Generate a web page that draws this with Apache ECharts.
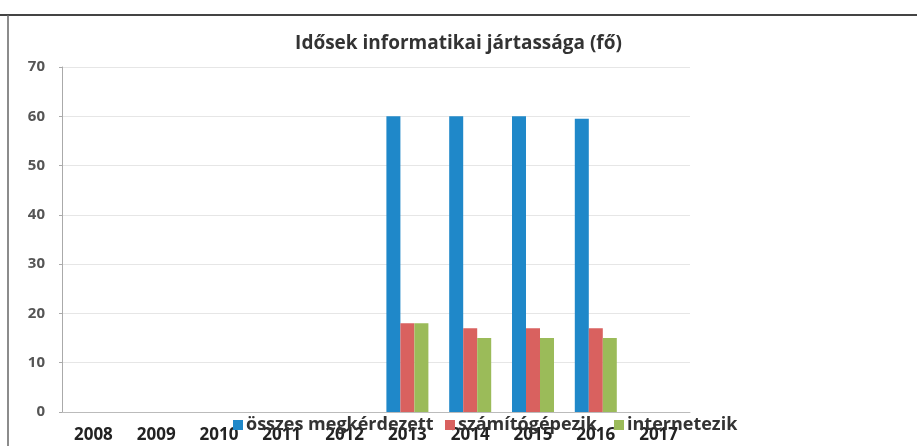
<!DOCTYPE html>
<html><head><meta charset="utf-8">
<script src="https://cdn.jsdelivr.net/npm/echarts@6/dist/echarts.min.js"></script>
<style>html,body{margin:0;padding:0;background:#fff}#c{width:917px;height:446px}</style>
</head><body><div id="c"></div>
<script>
var categories = ['2008','2009','2010','2011','2012','2013','2014','2015','2016','2017'];
var seriesNames = ['összes megkérdezett','számítógépezik','internetezik'];
var osszes = [null,null,null,null,null,60,60,60,59.5,null];
var szamitogep = [null,null,null,null,null,18,17,17,17,null];
var internet = [null,null,null,null,null,18,15,15,15,null];
var yTicks = [0,70,10];

var chart = echarts.init(document.getElementById('c'));
var font = '"Open Sans", "Liberation Sans", sans-serif';
var legendText = {fontFamily:font,fontSize:18,fontWeight:'bold',color:'#333',padding:[0,0,0,-2]};
var legendLefts = [228,440,609];
chart.setOption({
  animation:false,
  backgroundColor:'#fff',
  title:{text:'Idősek informatikai jártassága (fő)',left:'center',top:29,
    textStyle:{fontFamily:font,fontSize:19,fontWeight:'bold',color:'#333'}},
  graphic:[
    {type:'line',shape:{x1:0,y1:15,x2:917,y2:15},style:{stroke:'#444',lineWidth:2}},
    {type:'line',shape:{x1:8,y1:15,x2:8,y2:446},style:{stroke:'#666',lineWidth:1.5}}
  ],
  legend:seriesNames.map(function(n,i){
    return {left:legendLefts[i],top:411,itemWidth:10,itemHeight:10,icon:'rect',
      textStyle:legendText,data:[n]};
  }),
  grid:{left:62,right:227,top:67,bottom:34,containLabel:false},
  xAxis:{type:'category',data:categories,
    axisLine:{lineStyle:{color:'#bbb'}},axisTick:{show:false},
    axisLabel:{fontFamily:font,fontSize:17,fontWeight:'bold',color:'#222',margin:15}},
  yAxis:{type:'value',min:yTicks[0],max:yTicks[1],interval:yTicks[2],
    axisLine:{show:true,lineStyle:{color:'#aaa'}},axisTick:{show:true,length:3,lineStyle:{color:'#aaa'}},
    splitLine:{lineStyle:{color:'#e6e6e6'}},
    axisLabel:{fontFamily:font,fontSize:15,fontWeight:'bold',color:'#555',margin:17}},
  series:[
    {name:seriesNames[0],type:'bar',data:osszes,barWidth:14,barGap:'0%',itemStyle:{color:'#1f88c9'}},
    {name:seriesNames[1],type:'bar',data:szamitogep,barWidth:14,barGap:'0%',itemStyle:{color:'#d9615f'}},
    {name:seriesNames[2],type:'bar',data:internet,barWidth:14,barGap:'0%',itemStyle:{color:'#9bbb59'}}
  ]
});
</script></body></html>
